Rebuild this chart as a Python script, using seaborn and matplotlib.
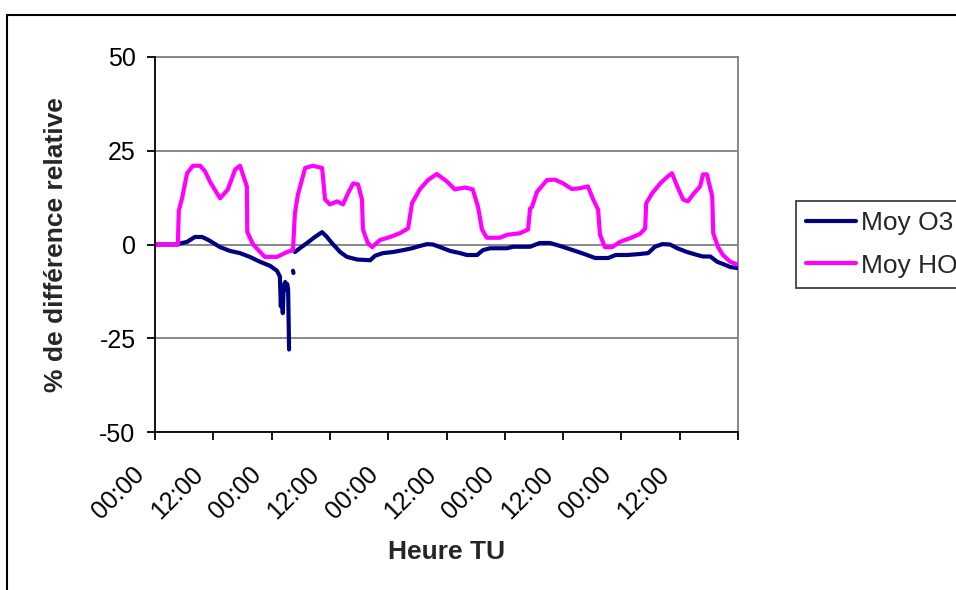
import numpy as np
import pandas as pd
import matplotlib
matplotlib.use("Agg")
import matplotlib.pyplot as plt
import matplotlib.transforms as mtransforms
from matplotlib.lines import Line2D
from matplotlib.patches import Rectangle
import seaborn as sns

# ---------------- data (hours since start, % relative difference) ----------------
series_names = ["Moy O3", "Moy HO"]
series_colors = ["#000080", "#FF00FF"]

o3_hours = [0, 4.7, 5.2, 6.6, 8.2, 9.7, 11.0, 13.4, 15.4, 17.5,
            19.5, 21.6, 23.7, 25.1, 25.7, 25.9, 26.1, 26.3, 26.5, 26.8,
            27.0, 27.2, 27.4, 27.6, 28.0, 28.4, 28.5, 28.6, 28.8, 29.8,
            31.3, 32.9, 34.4, 35.4, 36.4, 38.1, 39.5, 41.6, 44.3, 45.3,
            46.9, 49.0, 51.1, 52.9, 54.5, 56.0, 57.2, 58.7, 60.7, 62.8,
            64.2, 66.3, 67.5, 69.0, 72.5, 73.7, 77.2, 79.2, 81.3, 83.4,
            86.0, 88.5, 90.6, 93.3, 94.8, 97.2, 99.2, 101.5, 102.9, 104.4,
            106.0, 107.5, 109.5, 111.6, 112.8, 114.3, 115.7, 116.9, 118.4, 120.0]
o3_values = [0, 0, 0.3, 0.7, 2, 2, 1.2, -0.7, -1.7, -2.3,
             -3.3, -4.6, -5.7, -7, -8.5, -16.5, -11, -18.3, -11, -10,
             -12, -10.5, -12, -28, np.nan, -7, -7.6, np.nan, -2, -1,
             0.4, 2, 3.3, 2, 0.4, -2, -3.3, -4, -4.2, -3,
             -2.3, -2, -1.5, -1, -0.4, 0.1, 0, -0.7, -1.7, -2.3,
             -2.8, -2.8, -1.5, -1, -1, -0.6, -0.6, 0.4, 0.4, -0.4,
             -1.5, -2.6, -3.6, -3.6, -2.8, -2.8, -2.6, -2.3, -0.6, 0.1,
             0, -1, -2, -2.8, -3.2, -3.2, -4.6, -5.2, -6, -6.3]

ho_hours = [0, 4.7, 4.9, 5.6, 6.6, 7.8, 9.3, 10.3, 11.3, 13.4,
            15.0, 16.5, 17.5, 18.9, 19.0, 20.2, 22.6, 25.1, 27.2, 28.4,
            28.8, 29.4, 30.9, 32.5, 34.4, 35.0, 36.0, 37.5, 38.7, 39.7,
            40.8, 41.8, 42.6, 42.8, 43.8, 44.7, 46.3, 48.4, 50.4, 52.1,
            52.9, 54.5, 56.2, 58.0, 60.1, 61.7, 63.8, 65.4, 66.5, 67.3,
            68.3, 71.0, 72.5, 75.1, 76.8, 77.2, 77.6, 78.6, 80.7, 82.3,
            84.0, 85.8, 87.5, 89.1, 90.2, 91.2, 91.6, 92.6, 94.1, 95.7,
            97.8, 99.8, 100.9, 101.1, 102.3, 104.0, 105.4, 106.4, 107.5, 108.7,
            109.7, 110.7, 112.2, 112.8, 113.6, 114.7, 114.9, 115.9, 116.9, 118.4,
            120.0]
ho_values = [0, 0, 9, 12.5, 19, 21, 21, 19.5, 16.8, 12.3,
             14.7, 20, 21, 15.5, 3.3, 0, -3.3, -3.3, -2, -1.5,
             8.4, 13.2, 20.4, 21, 20.4, 12, 10.7, 11.5, 10.7, 13.6,
             16.3, 16, 12, 4, 0.4, -0.7, 1.2, 2, 3, 4.3,
             11, 14.7, 17.2, 18.8, 16.8, 14.7, 15.2, 14.7, 10, 4,
             1.8, 1.8, 2.6, 3, 4, 9.6, 10, 14, 17.2, 17.3,
             16.3, 14.8, 15, 15.5, 12, 9.3, 2.6, -0.7, -0.7, 0.7,
             1.7, 2.8, 4.3, 11, 13.6, 16.3, 18, 19, 15.5, 12,
             11.5, 13.3, 15.5, 18.7, 18.7, 12.8, 3, -0.7, -2.8, -4.6,
             -5.4]

x_ticks = [0, 12, 24, 36, 48, 60, 72, 84, 96, 108, 120]
x_tick_labels = ["00:00", "12:00", "00:00", "12:00", "00:00",
                 "12:00", "00:00", "12:00", "00:00", "12:00", ""]
y_ticks = [-50, -25, 0, 25, 50]
y_tick_labels = ["-50", "-25", "0", "25", "50"]

x_label = "Heure TU"
y_label = "% de différence relative"


def make_frame(hours, values):
    df = pd.DataFrame({"h": hours, "v": values})
    df["seg"] = df["v"].isna().cumsum()
    return df.dropna().reset_index(drop=True)


o3_df = make_frame(o3_hours, o3_values)
ho_df = make_frame(ho_hours, ho_values)

# ---------------- styling ----------------
sns.set_theme(style="white")
plt.rcParams["font.family"] = ["Liberation Sans", "DejaVu Sans"]

W, H = 956, 590
fig = plt.figure(figsize=(W / 100, H / 100), dpi=100)
fig.patch.set_facecolor("white")

left, right, top, bottom = 155, 738, 57, 432
ax = fig.add_axes([left / W, 1 - bottom / H, (right - left) / W, (bottom - top) / H])
ax.set_facecolor("white")

lw = 3.0
sns.lineplot(data=o3_df, x="h", y="v", units="seg", estimator=None, sort=False,
             color=series_colors[0], lw=lw, ax=ax, legend=False,
             solid_capstyle="round", zorder=3)
sns.lineplot(data=ho_df, x="h", y="v", units="seg", estimator=None, sort=False,
             color=series_colors[1], lw=lw, ax=ax, legend=False,
             solid_capstyle="butt", zorder=4)

ax.set_xlim(0, 120)
ax.set_ylim(-50, 50)
ax.set_xticks(x_ticks)
ax.set_xticklabels(x_tick_labels)
ax.set_yticks(y_ticks)
ax.set_yticklabels(y_tick_labels)

ax.yaxis.grid(True, color="#808080", lw=1.3, zorder=0)
ax.xaxis.grid(False)
ax.set_axisbelow(True)

for s in ["top", "right"]:
    ax.spines[s].set_color("#808080")
    ax.spines[s].set_linewidth(1.3)
for s in ["left", "bottom"]:
    ax.spines[s].set_color("black")
    ax.spines[s].set_linewidth(1.3)
    ax.spines[s].set_zorder(5)

ax.tick_params(axis="both", which="major", direction="out", length=6,
               width=1.3, color="black", labelcolor="black")
ax.tick_params(axis="y", pad=8, labelsize=18)
ax.tick_params(axis="x", pad=0, labelsize=18)
ax.tick_params(left=True, bottom=True)

# rotated x tick labels: right end centred slightly left of / below the tick
offset = mtransforms.ScaledTranslation(-14 / 100, -30 / 100, fig.dpi_scale_trans)
for lab in ax.get_xticklabels():
    lab.set_rotation(45)
    lab.set_ha("right")
    lab.set_va("center")
    lab.set_rotation_mode("anchor")
    lab.set_transform(lab.get_transform() + offset)

ax.set_xlabel(x_label, fontsize=19, fontweight="bold")
ax.xaxis.set_label_coords(0.5, -(559 - bottom) / (bottom - top))
ax.xaxis.label.set_va("baseline")
ax.set_ylabel(y_label, fontsize=19, fontweight="bold")
ax.yaxis.set_label_coords(-(left - 63) / (right - left), 0.5)
ax.yaxis.label.set_va("baseline")

# legend
handles = [Line2D([0], [0], color=c, lw=3.0) for c in series_colors]
leg = fig.legend(handles, series_names, loc="upper left",
                 bbox_to_anchor=(796 / W, 1 - 201 / H),
                 bbox_transform=fig.transFigure,
                 fontsize=19, frameon=True, fancybox=False, shadow=False,
                 handlelength=1.9, handletextpad=0.19, borderpad=0.38,
                 labelspacing=0.7, borderaxespad=0)
frame = leg.get_frame()
frame.set_edgecolor("#404040")
frame.set_linewidth(1.3)
frame.set_facecolor("white")
frame.set_alpha(1)

# outer chart-area border (extends beyond the right/bottom of the image)
fig.patches.append(Rectangle((7 / W, -0.1), 1.2, (1 - 15 / H) + 0.1,
                             transform=fig.transFigure, fill=False,
                             edgecolor="black", lw=1.5, zorder=0))

fig.savefig("out.png", dpi=100)
